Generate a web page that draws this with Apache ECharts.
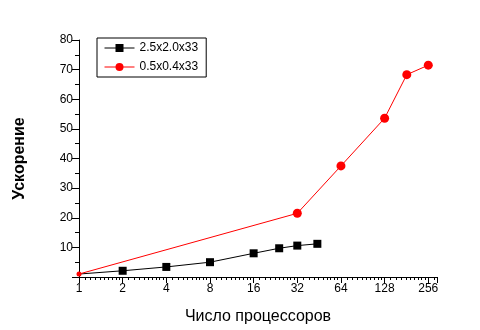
<!DOCTYPE html>
<html>
<head>
<meta charset="utf-8">
<script src="https://cdn.jsdelivr.net/npm/echarts@6/dist/echarts.min.js"></script>
<style>
  html, body { margin: 0; padding: 0; background: #fff; }
  #chart { width: 480px; height: 330px; }
</style>
</head>
<body>
<div id="chart"></div>
<script>
// Speedup versus processor count for two problem sizes
const seriesNames = ['2.5x2.0x33', '0.5x0.4x33'];

const procsA = [1, 2, 4, 8, 16, 24, 32, 44];
const speedupA = [1, 2.1, 3.4, 5.0, 8.0, 9.7, 10.6, 11.2];

const procsB = [1, 32, 64, 128, 182, 256];
const speedupB = [1, 21.5, 37.5, 53.6, 68.3, 71.5];

const xTicks = [1, 2, 4, 8, 16, 32, 64, 128, 256];
const yTicks = [0, 10, 20, 30, 40, 50, 60, 70, 80];

const FONT = 'Liberation Sans, Arial, sans-serif';

function pairs(xs, ys) {
  return xs.map((x, i) => [x, ys[i]]);
}

const chart = echarts.init(document.getElementById('chart'), null, { renderer: 'canvas' });

chart.setOption({
  animation: false,
  backgroundColor: '#ffffff',
  textStyle: { fontFamily: FONT },
  grid: { left: 79, right: 43, top: 40, bottom: 51, containLabel: false },
  legend: {
    orient: 'vertical',
    left: 97,
    top: 38,
    padding: [4, 8, 4, 7],
    itemGap: 7,
    itemWidth: 30,
    itemHeight: 10,
    borderColor: '#000',
    borderWidth: 1,
    borderRadius: 0,
    lineStyle: { width: 1 },
    textStyle: { fontFamily: FONT, fontSize: 12, color: '#000', padding: [0, 0, 0, 0] },
    data: seriesNames
  },
  xAxis: {
    type: 'log',
    logBase: 2,
    min: xTicks[0],
    max: 294,
    interval: 1,
    name: 'Число процессоров',
    nameLocation: 'middle',
    nameGap: 32,
    nameTextStyle: { fontFamily: FONT, fontSize: 16, color: '#000' },
    axisLine: { show: true, lineStyle: { color: '#000', width: 1 } },
    axisTick: { show: true, length: 6, lineStyle: { color: '#000' } },
    minorTick: { show: true, splitNumber: 10, length: 3, lineStyle: { color: '#000' } },
    splitLine: { show: false },
    axisLabel: {
      color: '#000',
      fontSize: 12,
      fontFamily: FONT,
      margin: 6,
      showMaxLabel: false,
      formatter: v => (xTicks.indexOf(Math.round(v)) >= 0 ? String(Math.round(v)) : '')
    }
  },
  yAxis: {
    type: 'value',
    min: yTicks[0],
    max: yTicks[yTicks.length - 1],
    interval: 10,
    name: 'Ускорение',
    nameLocation: 'middle',
    nameGap: 51,
    nameTextStyle: { fontFamily: FONT, fontSize: 16, fontWeight: 'bold', color: '#000' },
    axisLine: { show: true, lineStyle: { color: '#000', width: 1 } },
    axisTick: { show: true, length: 7, lineStyle: { color: '#000' } },
    minorTick: { show: true, splitNumber: 2, length: 4, lineStyle: { color: '#000' } },
    splitLine: { show: false },
    axisLabel: { color: '#000', fontSize: 12, fontFamily: FONT, margin: 6, showMinLabel: false }
  },
  series: [
    {
      name: seriesNames[0],
      type: 'line',
      data: pairs(procsA, speedupA).map((d, i) => (i === 0 ? { value: d, symbol: 'none' } : d)),
      symbol: 'rect',
      symbolSize: 8,
      color: '#000',
      lineStyle: { color: '#000', width: 1 },
      itemStyle: { color: '#000' },
      clip: true,
      z: 2
    },
    {
      name: seriesNames[1],
      type: 'line',
      data: pairs(procsB, speedupB).map((d, i) => (i === 0 ? { value: d, symbolSize: 5 } : d)),
      symbol: 'circle',
      symbolSize: 9,
      color: '#ff0000',
      lineStyle: { color: '#ff0000', width: 1 },
      itemStyle: { color: '#ff0000' },
      clip: true,
      z: 3
    }
  ]
});
</script>
</body>
</html>
